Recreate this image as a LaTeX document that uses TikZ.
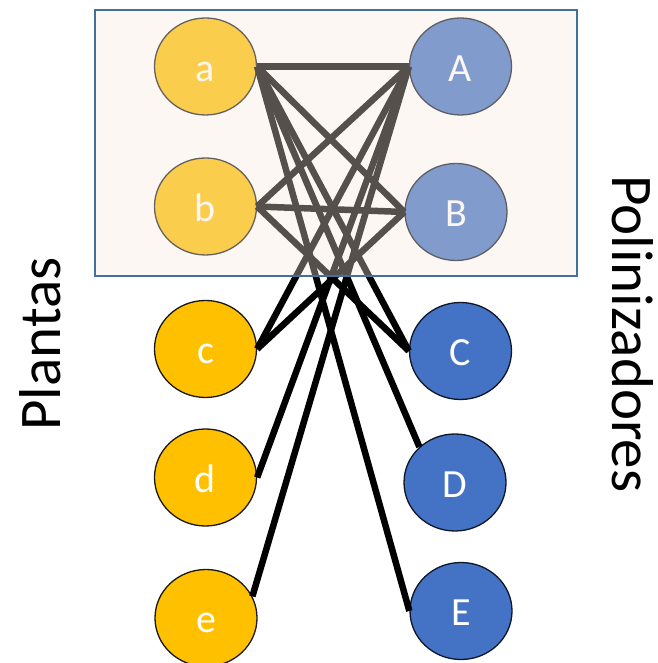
\documentclass[tikz,border=0pt]{standalone}
\usepackage{fontspec}
\setmainfont{Carlito}
\usetikzlibrary{shapes.geometric}
\definecolor{plantY}{HTML}{FFC000}
\definecolor{poliB}{HTML}{4472C4}
\definecolor{veil}{RGB}{245,232,220}
\definecolor{boxline}{HTML}{41719C}
\tikzset{
  nd/.style={ellipse, minimum width=102pt, minimum height=97pt, inner sep=0pt,
    line width=1.3pt, text=white, font=\fontsize{40}{40}\selectfont,
    text height=30pt, text depth=0pt},
  pl/.style={nd, fill=plantY, draw=black!90},
  po/.style={nd, fill=poliB, draw=black!80!poliB},
  link/.style={line width=6.5pt, black},
  axis/.style={font=\fontsize{59}{59}\selectfont, inner sep=0pt}
}
\begin{document}
\begin{tikzpicture}[x=1pt,y=1pt]
\useasboundingbox (0,0) rectangle (657,663);
% plants
\node[pl] (a) at (205.5,596.5) {a};
\node[pl] (b) at (205.5,456.5) {b};
\node[pl] (c) at (205.5,314) {c};
\node[pl] (d) at (205.5,185.5) {d};
\node[pl] (e) at (206,45) {e};
% pollinators
\node[po] (A) at (460.5,596.5) {A};
\node[po] (B) at (456,451) {B};
\node[po] (C) at (460.5,312) {C};
\node[po] (D) at (455,180.5) {D};
\node[po] (E) at (461,52) {E};
% links
\draw[link] (a.east) -- (A.west);
\draw[link] (a.east) -- (B.west);
\draw[link] (a.east) -- (C.west);
\draw[link] (a.east) -- (D.135);
\draw[link] (a.east) -- (E.west);
\draw[link] (b.east) -- (A.west);
\draw[link] (b.east) -- (B.west);
\draw[link] (b.east) -- (C.west);
\draw[link] (c.east) -- (A.west);
\draw[link] (c.east) -- (B.west);
\draw[link] (d.east) -- (A.west);
\draw[link] (e.25) -- (A.west);
% translucent box
\node[draw=none, fill=veil, fill opacity=0.35, inner sep=0pt,
  minimum width=482pt, minimum height=266pt] (veilbox) at (336,520) {};
\draw[boxline, line width=1.6pt] (veilbox.south west) rectangle (veilbox.north east);
% axis labels
\node[axis, rotate=90, anchor=base] (plantas) at (60,319) {Plantas};
\node[axis, rotate=-90, anchor=base] (poli) at (612,329) {Polinizadores};
\end{tikzpicture}
\end{document}
